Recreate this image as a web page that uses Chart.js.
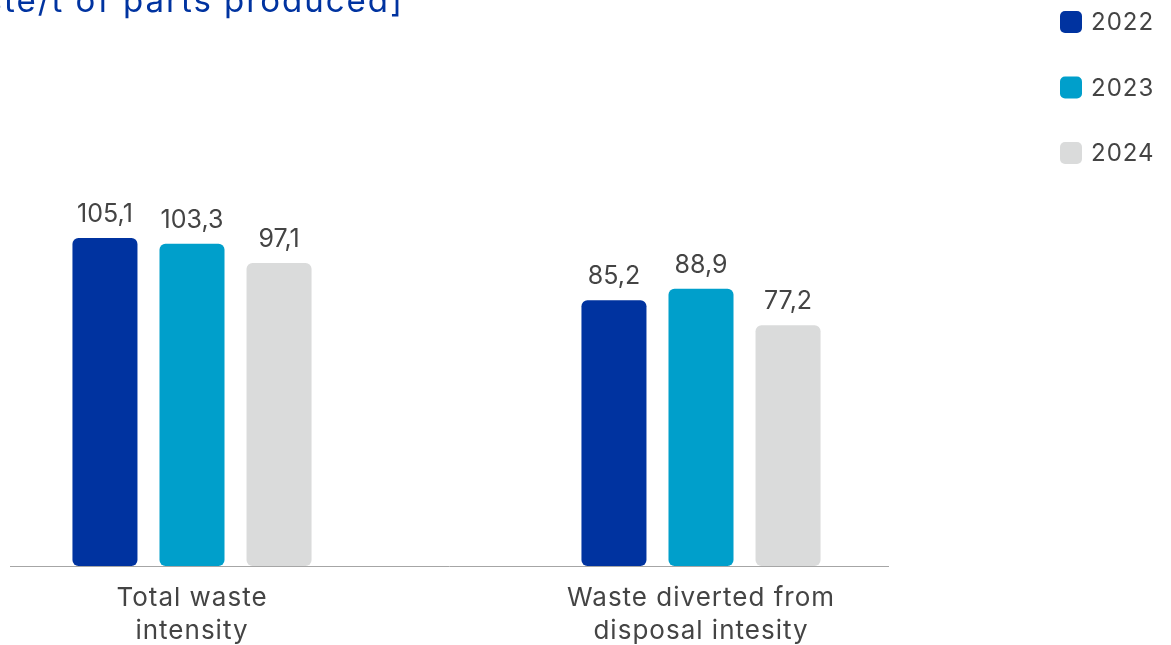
<!DOCTYPE html>
<html>
<head>
<meta charset="utf-8">
<script src="https://cdn.jsdelivr.net/npm/chart.js@4/dist/chart.umd.min.js"></script>
<style>
  html, body { margin: 0; padding: 0; background: #ffffff; }
  #wrap { position: relative; width: 1171px; height: 645px; }
</style>
</head>
<body>
<div id="wrap"><canvas id="chart" width="1171" height="645"></canvas></div>
<script>
// Waste intensity per tonne of parts produced, by year
const categories = [['Total waste', 'intensity'], ['Waste diverted from', 'disposal intesity']];
const years = ['2022', '2023', '2024'];
const values2022 = [105.1, 85.2];
const values2023 = [103.3, 88.9];
const values2024 = [97.1, 77.2];
const unitTitle = '[kg of waste/t of parts produced]';

const colors = ['#0033a0', '#009fcb', '#dadbdb'];
const textColor = '#444444';
const fontFamily = 'Inter, "Open Sans", sans-serif';

const fmt = v => v.toFixed(1).replace('.', ',');

// slightly wider tracking for all canvas text
const tracking = {
  id: 'tracking',
  beforeDraw(chart) { chart.ctx.letterSpacing = '1px'; }
};

// value labels above each bar
const valueLabels = {
  id: 'valueLabels',
  afterDatasetsDraw(chart) {
    const ctx = chart.ctx;
    ctx.save();
    ctx.letterSpacing = '0px';
    ctx.font = '400 25px ' + fontFamily;
    ctx.fillStyle = textColor;
    ctx.textAlign = 'center';
    ctx.textBaseline = 'bottom';
    chart.data.datasets.forEach((ds, i) => {
      chart.getDatasetMeta(i).data.forEach((bar, j) => {
        ctx.fillText(fmt(ds.data[j]), bar.x, bar.y - 11);
      });
    });
    ctx.restore();
  }
};

// baseline rule, unit title and the year key
const decorations = {
  id: 'decorations',
  beforeDatasetsDraw(chart) {
    const ctx = chart.ctx;
    const y = chart.scales.y.getPixelForValue(0) + 0.5;
    ctx.save();
    ctx.strokeStyle = '#a6a6a6';
    ctx.lineWidth = 1;
    ctx.beginPath();
    ctx.moveTo(10, y);
    ctx.lineTo(889, y);
    ctx.stroke();
    ctx.restore();
  },
  afterDraw(chart) {
    const ctx = chart.ctx;
    ctx.save();
    ctx.font = '400 33px ' + fontFamily;
    ctx.letterSpacing = '2px';
    ctx.fillStyle = '#0033a0';
    ctx.textAlign = 'right';
    ctx.textBaseline = 'alphabetic';
    ctx.fillText(unitTitle, 404, 12);

    ctx.font = '400 24px ' + fontFamily;
    ctx.letterSpacing = '1px';
    ctx.textAlign = 'left';
    ctx.textBaseline = 'middle';
    chart.data.datasets.forEach((ds, i) => {
      const cy = 22 + i * 65.5;
      ctx.fillStyle = ds.backgroundColor;
      ctx.beginPath();
      ctx.roundRect(1060, cy - 11, 22, 22, 5);
      ctx.fill();
      ctx.fillStyle = textColor;
      ctx.fillText(ds.label, 1091, cy + 1);
    });
    ctx.restore();
  }
};

const seriesValues = [values2022, values2023, values2024];

new Chart(document.getElementById('chart'), {
  type: 'bar',
  data: {
    labels: categories,
    datasets: years.map((y, i) => ({
      label: y,
      data: seriesValues[i],
      backgroundColor: colors[i],
      borderRadius: 6,
      borderSkipped: false,
      clip: false,
      categoryPercentage: 0.513,
      barPercentage: 0.747
    }))
  },
  options: {
    responsive: false,
    animation: false,
    layout: { padding: { left: 192, right: 470, top: 98, bottom: 0 } },
    plugins: { legend: { display: false }, tooltip: { enabled: false } },
    scales: {
      x: {
        offset: false,
        grid: { display: false, drawTicks: false },
        border: { display: false },
        afterFit(scale) { scale.height = 79; },
        ticks: {
          padding: 16,
          maxRotation: 0,
          autoSkip: false,
          color: textColor,
          font: { family: fontFamily, size: 26, lineHeight: 1.26 }
        }
      },
      y: {
        display: false,
        min: 0,
        max: 150
      }
    }
  },
  plugins: [tracking, decorations, valueLabels]
});
</script>
</body>
</html>
